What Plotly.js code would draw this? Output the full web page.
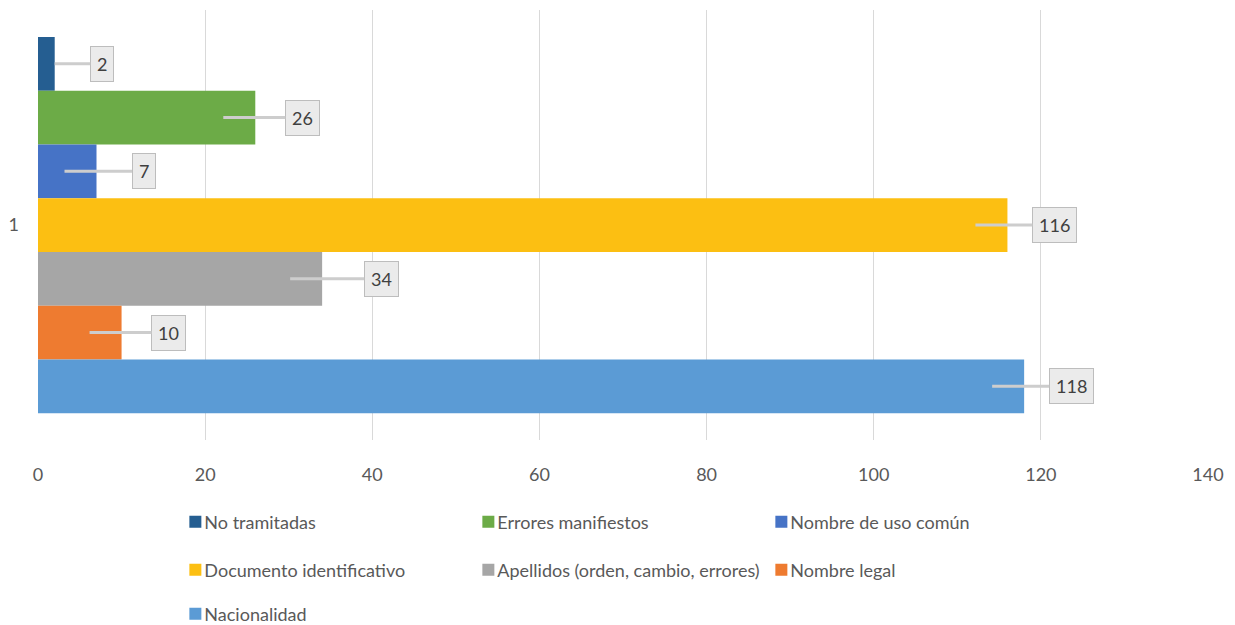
<!DOCTYPE html>
<html>
<head>
<meta charset="utf-8">
<script src="https://cdn.plot.ly/plotly-3.0.1.min.js"></script>
<style>
html,body{margin:0;padding:0;background:#fff;}
#chart{width:1235px;height:625px;}
</style>
</head>
<body>
<div id="chart"></div>
<script>
// ---- data ----
const categories = ['1'];
const seriesNames = [
  'No tramitadas',
  'Errores manifiestos',
  'Nombre de uso común',
  'Documento identificativo',
  'Apellidos (orden, cambio, errores)',
  'Nombre legal',
  'Nacionalidad'
];
const seriesValues = [2, 26, 7, 116, 34, 10, 118];
const xTickValues = [0, 20, 40, 60, 80, 100, 120, 140];

// ---- style ----
const seriesColors = ['#255e91', '#6cab47', '#4673c6', '#fcbf12', '#a6a6a6', '#ee7b30', '#5b9bd5'];
const legendRowOf = [1, 1, 1, 2, 2, 2, 3];
const labelExtraShift = [0, 0, 0, 0, 12, 0, 0];
const FONT = 'Lato, "Open Sans", sans-serif';

const W = 1235, H = 625;
const M = {l: 38, r: 27, t: 10, b: 185, autoexpand: false};
const xMax = 140;
const pxPerUnit = (W - M.l - M.r) / xMax;
const bargap = 0.125;
const n = seriesNames.length;
const slot = (1 - bargap) / n;

const traces = seriesNames.map((name, i) => ({
  type: 'bar',
  orientation: 'h',
  name: name,
  y: categories,
  x: [seriesValues[i]],
  marker: {color: seriesColors[i], line: {width: 0}},
  legend: legendRowOf[i] === 1 ? 'legend' : ('legend' + legendRowOf[i]),
  hoverinfo: 'x+name'
}));

const annotations = seriesValues.map((v, i) => {
  const yPos = -(1 - bargap) / 2 + slot / 2 + i * slot;
  const insetPx = v * pxPerUnit > 50 ? 32 : 0;
  const tipX = v - insetPx / pxPerUnit;
  const boxCenterPx = v * pxPerUnit + 47 + labelExtraShift[i];
  return {
    x: tipX, y: yPos, xref: 'x', yref: 'y',
    text: String(v),
    showarrow: true, arrowhead: 0, arrowwidth: 3, arrowcolor: '#cdcdcd',
    ax: boxCenterPx - tipX * pxPerUnit, ay: 0,
    bgcolor: '#ebebeb', bordercolor: '#bdbdbd', borderwidth: 1, borderpad: 6,
    font: {family: FONT, size: 18, color: '#404040'}
  };
});

const legendBase = {
  orientation: 'h', xanchor: 'left', yanchor: 'middle',
  x: 0.108, entrywidth: 248, entrywidthmode: 'pixels',
  font: {family: FONT, size: 18, color: '#595959'},
  bgcolor: 'rgba(0,0,0,0)', traceorder: 'normal'
};
const plotH = H - M.t - M.b;
const rowY = [522, 570, 614].map(py => -(py - (H - M.b)) / plotH);

const layout = {
  width: W, height: H,
  margin: M,
  paper_bgcolor: '#ffffff', plot_bgcolor: '#ffffff',
  barmode: 'group', bargap: bargap, bargroupgap: 0,
  showlegend: true,
  legend: Object.assign({}, legendBase, {y: rowY[0]}),
  legend2: Object.assign({}, legendBase, {y: rowY[1]}),
  legend3: Object.assign({}, legendBase, {y: rowY[2]}),
  xaxis: {
    range: [0, xMax], tickvals: xTickValues, ticktext: xTickValues.map(String),
    showgrid: true, gridcolor: '#d9d9d9', gridwidth: 1,
    zeroline: false, showline: false, ticks: '',
    ticklabelstandoff: 22,
    tickfont: {family: FONT, size: 18, color: '#595959'}
  },
  yaxis: {
    type: 'category', autorange: 'reversed',
    showgrid: false, zeroline: false, showline: false, ticks: '',
    ticklabelstandoff: 18,
    tickfont: {family: FONT, size: 18, color: '#595959'}
  },
  annotations: annotations,
  font: {family: FONT}
};

Plotly.newPlot('chart', traces, layout, {displayModeBar: false, staticPlot: true}).then(gd => {
  // bring legend swatches close to their text, as in the reference
  gd.querySelectorAll('.legendsymbols').forEach(s => {
    s.setAttribute('transform', 'translate(11,0)');
  });
});
</script>
</body>
</html>
